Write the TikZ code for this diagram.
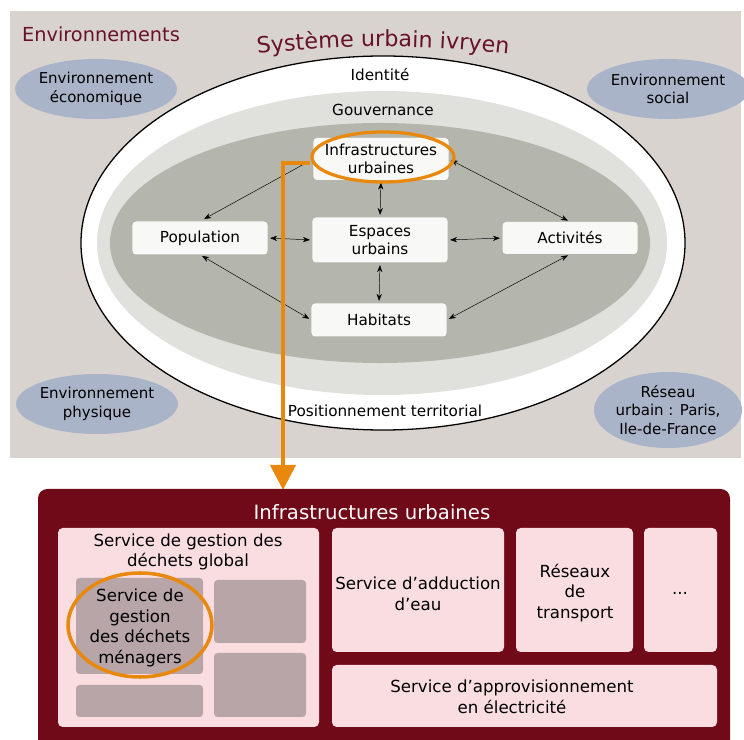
\documentclass[tikz,border=0pt]{standalone}
\usepackage{fontspec}
\setmainfont{DejaVu Sans}
\usetikzlibrary{arrows.meta,shapes.geometric,decorations.text}

\definecolor{fond}{RGB}{217,211,207}
\definecolor{bordeaux}{RGB}{104,18,42}
\definecolor{grisclair}{RGB}{224,225,220}
\definecolor{grisfonce}{RGB}{180,181,173}
\definecolor{bleuenv}{RGB}{169,180,200}
\definecolor{orangevif}{RGB}{232,137,14}
\definecolor{rouge}{RGB}{112,10,24}
\definecolor{rose}{RGB}{249,221,225}
\definecolor{mauve}{RGB}{183,165,168}
\definecolor{blanc}{RGB}{248,248,247}

\begin{document}
\begin{tikzpicture}[
	x=0.03cm, y=0.03cm,
	boite/.style={ fill=blanc, rounded corners=3pt, align=center, inner sep=0pt, minimum width=4.05cm, font=\fontsize{13}{15}\selectfont },
	env/.style={ ellipse, fill=bleuenv, inner sep=0pt, minimum width=4.44cm, minimum height=1.8cm, align=center, font=\fontsize{12.8}{16}\selectfont },
	lien/.style={ thin, >={Stealth[length=6pt,width=4.5pt]}, shorten <=2pt, shorten >=2pt },
	service/.style={ align=center, font=\fontsize{14.2}{17.5}\selectfont }
]
\useasboundingbox (0,0) rectangle (744,-740);

% systeme urbain et ses environnements
\fill[fond] (10,-11) rectangle (741,-458);
\node[anchor=west, text=bordeaux, font=\fontsize{16.5}{18}\selectfont] (envs) at (18,-34) {Environnements};
\node[env] (eco) at (96,-89) {Environnement\\économique};
\node[env] (soc) at (668,-89) {Environnement\\social};
\node[env] (phy) at (97,-404) {Environnement\\physique};
\node[env, minimum height=2.28cm] (res) at (668,-410) {Réseau\\urbain : Paris,\\Ile-de-France};

\draw[fill=white, line width=1.1pt] (383,-243) ellipse (9.06cm and 5.61cm);
\fill[grisclair] (382,-243) ellipse (8.55cm and 4.56cm);
\fill[grisfonce] (380,-243) ellipse (8.1cm and 3.6cm);
\path[decorate, decoration={ text along path, text align=center, text color=bordeaux,
	text={|\fontsize{19}{21}\selectfont|Système urbain ivryen} }]
	(249,-55) arc[start angle=97, end angle=83, radius=33cm];
\node[font=\fontsize{13}{15}\selectfont] (ident) at (380,-75) {Identité};
\node[font=\fontsize{13}{15}\selectfont] (gouv) at (383,-110) {Gouvernance};
\node[font=\fontsize{13}{15}\selectfont] (pos) at (385,-411) {Positionnement territorial};

\node[boite, minimum height=1.26cm] (infra) at (381,-159) {Infrastructures\\urbaines};
\node[boite, minimum height=0.99cm] (pop) at (200,-238) {Population};
\node[boite, minimum height=1.35cm] (esp) at (380,-240) {Espaces\\urbains};
\node[boite, minimum height=0.96cm] (act) at (570,-238) {Activités};
\node[boite, minimum height=0.99cm] (hab) at (379,-320) {Habitats};

\draw[lien, ->, shorten <=5pt, shorten >=4pt] (infra.west) -- (pop.north);
\foreach \a/\b in {infra.south/esp.north, pop.east/esp.west, esp.east/act.west, esp.south/hab.north, infra.east/act.north, pop.south/hab.west, act.south/hab.east}
	\draw[lien, <->] (\a) -- (\b);

\node[ellipse, draw=orangevif, line width=2.8pt, minimum width=4.26cm, minimum height=1.5cm] (halo) at (383,-157) {};
\coordinate (pointe) at (283,-490);
\draw[orangevif, line width=3.4pt, -{Triangle[width=0.75cm,length=0.75cm]}] ([shift={(0,-6)}]halo.west) -| (pointe);

% zoom sur les infrastructures urbaines
\fill[rouge, rounded corners=8pt] (38,-760) rectangle (730,-489);
\node[text=white, font=\fontsize{16.8}{18}\selectfont] (titre) at (372,-512) {Infrastructures urbaines};
\foreach \x/\y/\u/\v in {58/528/319/727, 332/528/504/652, 516/528/633/652, 644/528/717/652, 332/665/717/727}
	\fill[rose, rounded corners=4pt] (\x,-\y) rectangle (\u,-\v);
\foreach \x/\y/\u/\v in {76/578/203/674, 214/580/306/643, 214/653/306/717, 76/685/203/717}
	\fill[mauve, rounded corners=3pt] (\x,-\y) rectangle (\u,-\v);

\node[service] (global) at (188,-552) {Service de gestion des\\déchets global};
\node[service] (menagers) at (140,-628) {Service de\\gestion\\des déchets\\ménagers};
\node[service] (eau) at (418,-594) {Service d’adduction\\d’eau};
\node[service] (reseaux) at (575,-593) {Réseaux\\de\\transport};
\node[service] (autres) at (680,-593) {...};
\node[service] (elec) at (512,-697) {Service d’approvisionnement\\en électricité};
\draw[orangevif, line width=3pt] (140,-625) ellipse (2.16cm and 1.56cm);

\end{tikzpicture}
\end{document}
